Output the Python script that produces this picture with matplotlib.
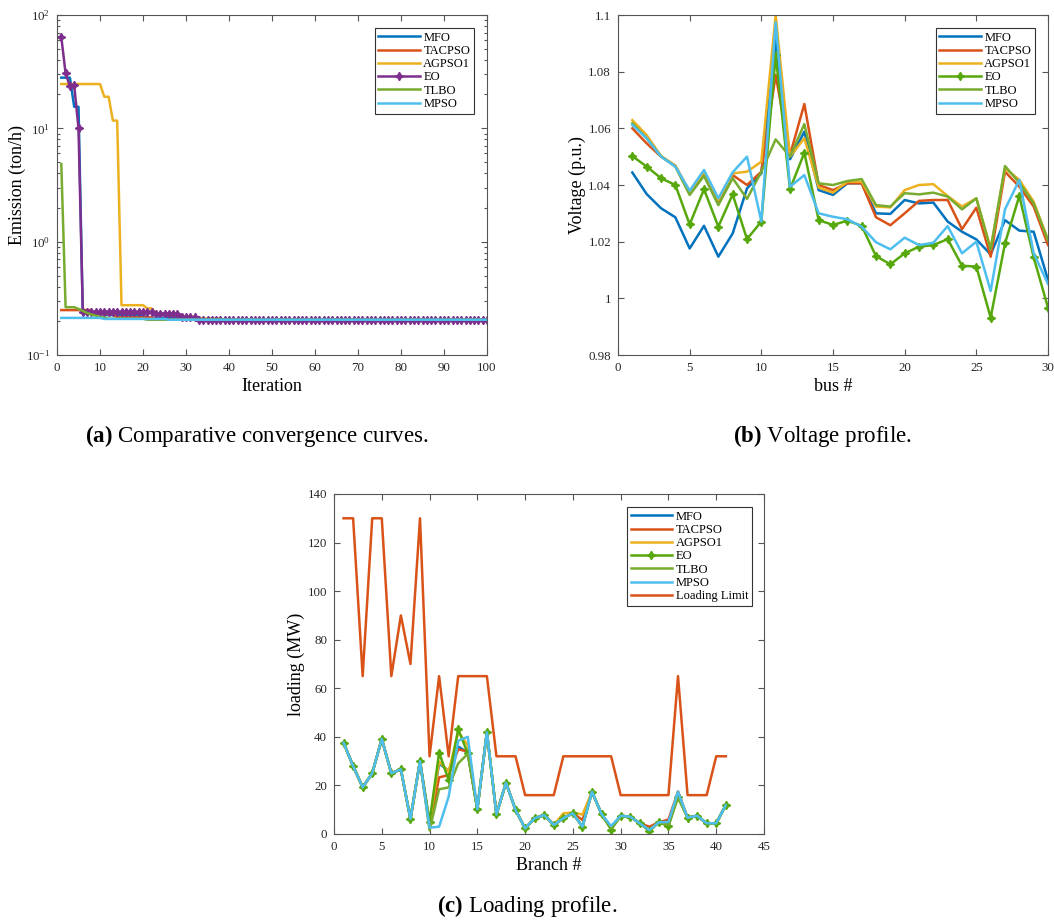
import numpy as np
import matplotlib
matplotlib.use('Agg')
import matplotlib.pyplot as plt
from matplotlib.ticker import LogLocator, NullFormatter, MultipleLocator, FixedLocator

plt.rcParams['font.family'] = ['Liberation Serif', 'DejaVu Serif']
plt.rcParams['mathtext.fontset'] = 'custom'
plt.rcParams['mathtext.rm'] = 'Liberation Serif'
plt.rcParams['mathtext.bf'] = 'Liberation Serif:bold'
plt.rcParams['mathtext.it'] = 'Liberation Serif:italic'

# ---------------- (a) convergence data (run-length: value, number of iterations) -------------
iterations = np.arange(1, 101)
mfo_vals = [28, 15.5, 0.235, 0.225, 0.212, 0.2048]
mfo_runs = [3, 2, 5, 10, 10, 70]
tacpso_vals = [0.249, 0.23, 0.215, 0.2048]
tacpso_runs = [8, 5, 9, 78]
agpso1_vals = [24.6, 19, 11.7, 0.275, 0.258, 0.234, 0.217, 0.21, 0.2048]
agpso1_runs = [10, 2, 2, 6, 2, 6, 4, 6, 62]
eo_vals = [64, 30.5, 23.5, 24, 10, 0.241, 0.232, 0.215, 0.2048]
eo_runs = [1, 1, 1, 1, 1, 17, 6, 4, 68]
tlbo_vals = [4.84, 0.264, 0.255, 0.245, 0.235, 0.228, 0.222, 0.217, 0.213, 0.209, 0.2048]
tlbo_runs = [1, 3, 1, 1, 1, 1, 1, 1, 1, 9, 80]
mpso_vals = [0.2125, 0.208, 0.2048]
mpso_runs = [10, 15, 75]

# ---------------- (b) voltage profile -------------
bus = np.arange(1, 31)
v_mfo = [1.0444, 1.0368, 1.0318, 1.0286, 1.0176, 1.0256, 1.0147, 1.0229, 1.0388, 1.0441,
         1.0912, 1.0491, 1.0588, 1.0382, 1.0365, 1.0406, 1.0406, 1.0300, 1.0298, 1.0347,
         1.0335, 1.0338, 1.0271, 1.0235, 1.0208, 1.0155, 1.0276, 1.0239, 1.0235, 1.0065]
v_tacpso = [1.0600, 1.0547, 1.0500, 1.0468, 1.0373, 1.0444, 1.0341, 1.0435, 1.0400, 1.0447,
            1.0788, 1.0506, 1.0686, 1.0400, 1.0382, 1.0406, 1.0406, 1.0286, 1.0258, 1.0300,
            1.0344, 1.0347, 1.0347, 1.0244, 1.0320, 1.0147, 1.0447, 1.0394, 1.0324, 1.0188]
v_agpso1 = [1.0629, 1.0576, 1.0502, 1.0468, 1.0376, 1.0447, 1.0347, 1.0441, 1.0447, 1.0482,
            1.1000, 1.0500, 1.0565, 1.0391, 1.0373, 1.0412, 1.0412, 1.0324, 1.0321, 1.0382,
            1.0400, 1.0403, 1.0361, 1.0324, 1.0353, 1.0176, 1.0459, 1.0418, 1.0341, 1.0206]
v_eo = [1.0502, 1.0465, 1.0424, 1.0400, 1.0261, 1.0385, 1.0253, 1.0367, 1.0209, 1.0271,
        1.0859, 1.0385, 1.0514, 1.0276, 1.0259, 1.0274, 1.0256, 1.0149, 1.0120, 1.0159,
        1.0182, 1.0188, 1.0209, 1.0115, 1.0112, 0.9932, 1.0194, 1.0362, 1.0145, 0.9967]
v_tlbo = [1.0618, 1.0565, 1.0502, 1.0465, 1.0365, 1.0432, 1.0329, 1.0424, 1.0351, 1.0447,
          1.0561, 1.0500, 1.0615, 1.0406, 1.0400, 1.0414, 1.0421, 1.0329, 1.0324, 1.0371,
          1.0367, 1.0373, 1.0359, 1.0314, 1.0353, 1.0173, 1.0467, 1.0408, 1.0335, 1.0206]
v_mpso = [1.0612, 1.0565, 1.0500, 1.0465, 1.0380, 1.0453, 1.0353, 1.0445, 1.0500, 1.0271,
          1.0974, 1.0394, 1.0435, 1.0300, 1.0288, 1.0279, 1.0253, 1.0198, 1.0173, 1.0214,
          1.0188, 1.0196, 1.0255, 1.0159, 1.0200, 1.0026, 1.0314, 1.0418, 1.0159, 1.0051]

# ---------------- (c) loading profile -------------
branch = np.arange(1, 42)
load_mfo = [37.6, 28, 19.2, 25, 39.1, 25, 26.6, 6.2, 30, 4.5, 29, 26, 36, 33.5, 10.2, 41.9,
            8.1, 21.1, 9.9, 2.3, 6.5, 7.8, 3.7, 6.5, 8.5, 3, 17.4, 8.2, 2.3, 7.5, 7.1, 4.4,
            1.6, 4.8, 3.7, 17.4, 6.7, 7.5, 4.4, 4.4, 11.9]
load_tacpso = [37.6, 28, 19.2, 25, 39.1, 25, 26.6, 6.2, 30, 3, 23.3, 24.3, 34.9, 33.9, 10.2, 41.9,
               8.1, 21.1, 9.9, 2.3, 6.5, 7.8, 3.7, 6.5, 8.5, 5.8, 17.4, 8.2, 2.3, 7.5, 7.1, 4.4,
               3, 4.8, 6, 17.4, 6.7, 7.5, 4.4, 4.4, 11.9]
load_agpso1 = [37.6, 28, 19.2, 25, 39.1, 25, 26.6, 6.2, 30, 4, 29.8, 25.7, 42.1, 36.6, 10.2, 41.9,
               8.1, 21.1, 9.9, 2.3, 6.5, 7.8, 3.7, 8.5, 8.8, 8, 17.4, 8.2, 2.3, 7.5, 7.1, 4.4,
               1.6, 4.8, 3.7, 17.4, 6.7, 7.5, 4.4, 4.4, 11.9]
load_eo = [37.6, 28, 19.2, 25, 39.1, 25, 26.6, 6.2, 30, 5, 33.5, 22.2, 43.1, 33.2, 10.2, 41.9,
           8.1, 21.1, 9.9, 2.3, 6.5, 7.8, 3.7, 6.5, 8.5, 3, 17.4, 8.2, 1.8, 7.5, 7.1, 4.4,
           1.2, 4.8, 3.2, 15.4, 6.7, 7.5, 4.4, 4.4, 11.9]
load_tlbo = [37.6, 28, 19.2, 25, 39.1, 25, 26.6, 6.2, 30, 1.5, 18.4, 19.2, 29.1, 33, 10.2, 41.9,
             8.1, 21.1, 9.9, 2.3, 6.5, 7.8, 3.7, 6.5, 8.5, 3, 17.4, 8.2, 2.3, 7.5, 7.1, 4.4,
             1.6, 4.8, 3.7, 15, 6.7, 7.5, 4.4, 4.4, 11.9]
load_mpso = [37.6, 28, 19.2, 25, 39.1, 25, 26.6, 6.2, 30, 2.6, 3, 15.4, 38.4, 40, 10.2, 41.9,
             8.1, 21.1, 9.9, 2.3, 6.5, 7.8, 3.7, 6.5, 8.5, 3, 17.4, 8.2, 3.3, 7.5, 7.1, 4.4,
             1.6, 4.8, 5, 17.4, 6.7, 7.5, 4.4, 4.4, 11.9]
load_limit = [130, 130, 65, 130, 130, 65, 90, 70, 130, 32, 65, 32, 65, 65, 65, 65,
              32, 32, 32, 16, 16, 16, 16, 32, 32, 32, 32, 32, 32, 16, 16, 16,
              16, 16, 16, 65, 16, 16, 16, 32, 32]

labels = ['MFO', 'TACPSO', 'AGPSO1', 'EO', 'TLBO', 'MPSO']
c_mfo = '#0072BD'
c_tac = '#D95319'
c_agp = '#EDB120'
c_eo_a = '#7E2F8E'
c_eo = '#57A80C'
c_tlbo = '#77AC30'
c_mpso = '#4DBEEE'

LW = 1.8
STAR = (4, 1, 0)
AX_COLOR = '#555555'
TICK_FS = 9.3
LAB_FS = 13
LEG_FS = 9


def style_axes(ax):
    for s in ax.spines.values():
        s.set_color(AX_COLOR)
        s.set_linewidth(0.8)
    ax.tick_params(which='both', direction='in', top=True, right=True,
                   color=AX_COLOR, labelcolor='#262626', labelsize=TICK_FS, width=0.8)
    ax.tick_params(which='major', length=4, pad=5)
    ax.tick_params(which='minor', length=2)


def legend(ax, y_top=0.962, x_right=0.97):
    lg = ax.legend(loc='upper right', bbox_to_anchor=(x_right, y_top), fontsize=LEG_FS,
                   fancybox=False, framealpha=1, edgecolor='#333333', handlelength=3.3,
                   handletextpad=0.3, labelspacing=0.1, borderpad=0.3, borderaxespad=0)
    lg.get_frame().set_linewidth(0.8)
    return lg


W, H = 1054, 923
fig = plt.figure(figsize=(W / 100, H / 100), dpi=100)


def axes_px(x0, x1, y0, y1):
    return fig.add_axes([x0 / W, 1 - y1 / H, (x1 - x0) / W, (y1 - y0) / H])


# ---------------- (a) ----------------
ax1 = axes_px(57, 487, 15, 355)
ax1.plot(iterations, np.repeat(mfo_vals, mfo_runs), color=c_mfo, lw=LW, label='MFO')
ax1.plot(iterations, np.repeat(tacpso_vals, tacpso_runs), color=c_tac, lw=LW, label='TACPSO')
ax1.plot(iterations, np.repeat(agpso1_vals, agpso1_runs), color=c_agp, lw=LW, label='AGPSO1')
ax1.plot(iterations, np.repeat(eo_vals, eo_runs), color=c_eo_a, lw=LW, marker=STAR,
         markersize=6, label='EO')
ax1.plot(iterations, np.repeat(tlbo_vals, tlbo_runs), color=c_tlbo, lw=LW, label='TLBO')
ax1.plot(iterations, np.repeat(mpso_vals, mpso_runs), color=c_mpso, lw=LW, label='MPSO')
ax1.set_yscale('log')
ax1.set_ylim(0.1, 100)
ax1.set_xlim(0, 100)
ax1.xaxis.set_major_locator(MultipleLocator(10))
ax1.yaxis.set_major_locator(LogLocator(base=10, numticks=10))
ax1.yaxis.set_minor_locator(LogLocator(base=10, subs=np.arange(2, 10), numticks=10))
ax1.yaxis.set_minor_formatter(NullFormatter())
ax1.set_xlabel('Iteration', fontsize=LAB_FS, labelpad=3)
ax1.set_ylabel('Emission (ton/h)', fontsize=LAB_FS, labelpad=0)
style_axes(ax1)
legend(ax1)

# ---------------- (b) ----------------
ax2 = axes_px(618, 1048, 15, 355)
ax2.plot(bus, v_mfo, color=c_mfo, lw=LW, label='MFO')
ax2.plot(bus, v_tacpso, color=c_tac, lw=LW, label='TACPSO')
ax2.plot(bus, v_agpso1, color=c_agp, lw=LW, label='AGPSO1')
ax2.plot(bus, v_eo, color=c_eo, lw=LW, marker=STAR, markersize=6, label='EO')
ax2.plot(bus, v_tlbo, color=c_tlbo, lw=LW, label='TLBO')
ax2.plot(bus, v_mpso, color=c_mpso, lw=LW, label='MPSO')
ax2.set_xlim(0, 30)
ax2.set_ylim(0.98, 1.1)
ax2.xaxis.set_major_locator(MultipleLocator(5))
ax2.yaxis.set_major_locator(FixedLocator([0.98, 1.0, 1.02, 1.04, 1.06, 1.08, 1.1]))
ax2.set_yticklabels(['0.98', '1', '1.02', '1.04', '1.06', '1.08', '1.1'])
ax2.set_xlabel('bus #', fontsize=LAB_FS, labelpad=3)
ax2.set_ylabel('Voltage (p.u.)', fontsize=LAB_FS, labelpad=2)
style_axes(ax2)
legend(ax2)

# ---------------- (c) ----------------
ax3 = axes_px(334, 764, 494, 834)
ax3.plot(branch, load_mfo, color=c_mfo, lw=LW, label='MFO')
ax3.plot(branch, load_tacpso, color=c_tac, lw=LW, label='TACPSO')
ax3.plot(branch, load_agpso1, color=c_agp, lw=LW, label='AGPSO1')
ax3.plot(branch, load_eo, color=c_eo, lw=LW, marker=STAR, markersize=6, label='EO')
ax3.plot(branch, load_tlbo, color=c_tlbo, lw=LW, label='TLBO')
ax3.plot(branch, load_mpso, color=c_mpso, lw=LW, label='MPSO')
ax3.plot(branch, load_limit, color=c_tac, lw=LW, label='Loading Limit')
ax3.set_xlim(0, 45)
ax3.set_ylim(0, 140)
ax3.xaxis.set_major_locator(MultipleLocator(5))
ax3.yaxis.set_major_locator(MultipleLocator(20))
ax3.set_xlabel('Branch #', fontsize=LAB_FS, labelpad=3)
ax3.set_ylabel('loading (MW)', fontsize=LAB_FS, labelpad=2)
style_axes(ax3)
legend(ax3, x_right=0.972)

# ---------------- captions ----------------
CAP_FS = 16.5
fig.text(257 / W, 1 - 436 / H, r'$\mathbf{(a)}$ Comparative convergence curves.',
         ha='center', va='center', fontsize=CAP_FS)
fig.text(823 / W, 1 - 436 / H, r'$\mathbf{(b)}$ Voltage profile.',
         ha='center', va='center', fontsize=CAP_FS)
fig.text(527 / W, 1 - 906 / H, r'$\mathbf{(c)}$ Loading profile.',
         ha='center', va='center', fontsize=CAP_FS)

fig.savefig('out.png', dpi=100)
